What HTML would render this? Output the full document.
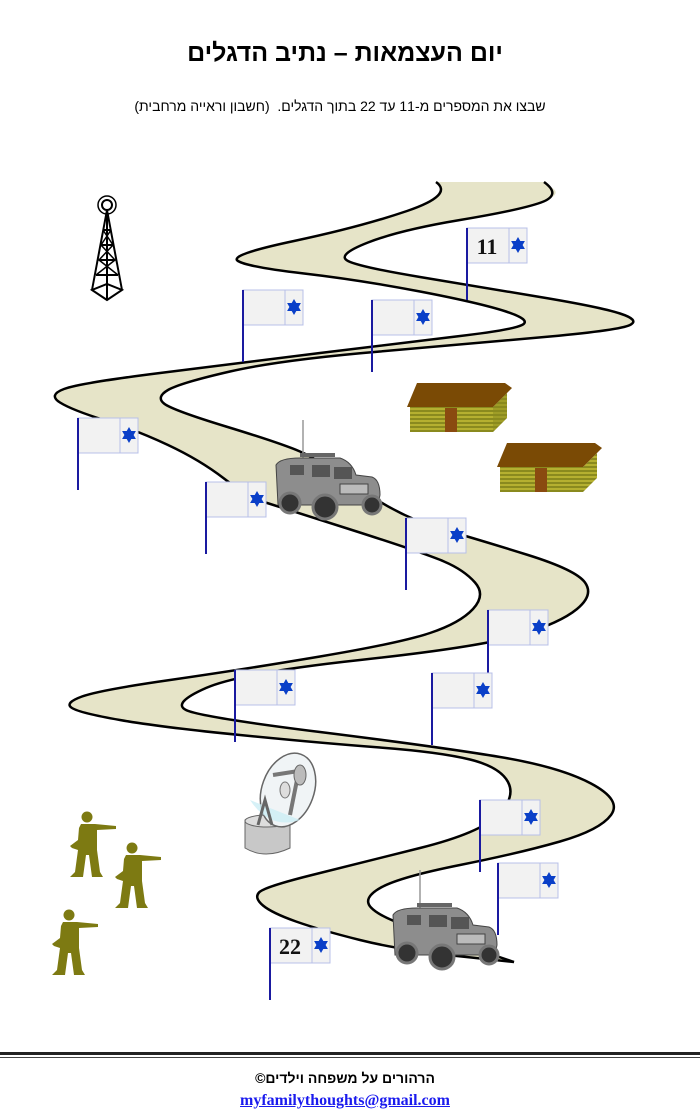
<!DOCTYPE html>
<html><head><meta charset="utf-8">
<style>
html,body{margin:0;padding:0;background:#fff;}
body{width:700px;height:1117px;position:relative;overflow:hidden;}
.t{position:absolute;left:0;width:700px;text-align:center;direction:rtl;}
</style></head>
<body>
<div class="t" style="top:39px;left:-5px;font:bold 25px 'Liberation Sans','Noto Sans CJK JP',sans-serif;">יום העצמאות – נתיב הדגלים</div>
<div class="t" style="top:98px;left:-10px;font:14px 'Liberation Sans','Noto Sans CJK JP',sans-serif;">שבצו את המספרים מ-11 עד 22 בתוך הדגלים.&nbsp; (חשבון וראייה מרחבית)</div>

<svg width="700" height="1117" style="position:absolute;left:0;top:0" xmlns="http://www.w3.org/2000/svg">
<defs>
<g id="star"><polygon points="0,-8 6.9,4 -6.9,4" fill="#0a3fc8"/><polygon points="0,8 6.9,-4 -6.9,-4" fill="#0a3fc8"/></g>
<pattern id="logs" width="4" height="4" patternUnits="userSpaceOnUse"><rect width="4" height="4" fill="#8a8a1e"/><rect width="4" height="2" fill="#b5b030"/></pattern>
</defs>
<path id="roadfill" fill="#e6e4c8" stroke="none"/>
<path id="ex" fill="none" stroke="#000" stroke-width="2.5"/>
<path id="ey" fill="none" stroke="#000" stroke-width="2.5"/>

<g stroke="#000" stroke-width="2" fill="none">
<circle cx="107" cy="205" r="5"/><circle cx="107" cy="205" r="9" stroke-width="1.5"/>
<line x1="107" y1="210" x2="92" y2="290"/><line x1="107" y1="210" x2="122" y2="290"/>
<line x1="107" y1="210" x2="107" y2="300"/>
<path d="M92 290 L107 300 L122 290 L107 284 Z"/>
<path d="M103 230 L111 230 M101 245 L113 245 M99 260 L115 260 M96 275 L118 275"/>
<path d="M103 230 L113 245 L99 260 L118 275 M111 230 L101 245 L115 260 L96 275" stroke-width="1.5"/>
</g>

<g>
<polygon points="410,407 493,407 507,393 507,418 493,432 410,432" fill="url(#logs)"/>
<polygon points="493,407 507,393 507,418 493,432" fill="#8a8a1e" opacity=".5"/>
<polygon points="417,383 505,383 512,388 493,407 407,407" fill="#7a4a05"/>
<rect x="445" y="408" width="12" height="24" fill="#8a4a10"/>
<polygon points="500,467 583,467 597,453 597,478 583,492 500,492" fill="url(#logs)"/>
<polygon points="507,443 595,443 602,448 583,467 497,467" fill="#7a4a05"/>
<rect x="535" y="468" width="12" height="24" fill="#8a4a10"/>
</g>

<g id="hum">
<line x1="303" y1="420" x2="303" y2="458" stroke="#999" stroke-width="1.5"/>
<rect x="300" y="453" width="35" height="4" fill="#666"/>
<path d="M276 465 Q280 458 300 458 L340 458 Q352 462 356 475 L372 477 Q380 480 380 495 L378 505 L278 505 Z" fill="#8d8d8d" stroke="#444"/>
<rect x="290" y="465" width="14" height="10" fill="#555"/>
<rect x="312" y="465" width="18" height="12" fill="#555"/>
<rect x="334" y="467" width="18" height="12" fill="#555"/>
<rect x="340" y="484" width="28" height="10" fill="#bbb" stroke="#444"/>
<circle cx="290" cy="503" r="10" fill="#333" stroke="#777" stroke-width="3"/>
<circle cx="325" cy="507" r="12" fill="#333" stroke="#777" stroke-width="3"/>
<circle cx="372" cy="505" r="9" fill="#333" stroke="#777" stroke-width="3"/>
</g>
<use href="#hum" transform="translate(117,450)"/>

<g>
<path d="M245 820 L245 848 Q265 860 290 848 L290 820 Q265 812 245 820 Z" fill="#c8c8c8" stroke="#666"/>
<ellipse cx="267" cy="821" rx="22" ry="6" fill="#ddd" stroke="#666"/>
<ellipse cx="288" cy="790" rx="26" ry="38" transform="rotate(20 288 790)" fill="#f0f4f6" stroke="#666" stroke-width="1.5"/>
<path d="M250 800 Q270 830 300 820" fill="#cceef5" stroke="none" opacity=".8"/>
<path d="M258 825 L265 800 L272 825" fill="none" stroke="#666" stroke-width="3"/>
<line x1="273" y1="775" x2="305" y2="770" stroke="#777" stroke-width="4"/>
<line x1="298" y1="775" x2="290" y2="815" stroke="#777" stroke-width="4"/>
<ellipse cx="300" cy="775" rx="6" ry="10" fill="#bbb" stroke="#666"/>
<ellipse cx="285" cy="790" rx="5" ry="8" fill="#ddd" stroke="#777"/>
</g>

<g id="sol" fill="#7d7a12">
<circle cx="87" cy="817" r="5.5"/>
<path d="M81 824 L95 824 L116 826 L116 829 L97 830 L97 850 L100 872 L103 877 L92 877 L89 855 L86 855 L83 877 L70 877 L75 872 L78 850 L72 848 L70 846 L78 840 L79 828 Z"/>
</g>
<use href="#sol" transform="translate(45,31)"/>
<use href="#sol" transform="translate(-18,98)"/>

<g id="flags"></g>

<rect x="0" y="1052" width="700" height="3" fill="#222"/>
<rect x="0" y="1057" width="700" height="1" fill="#444"/>
</svg>

<div class="t" style="top:1070px;left:-5px;font:bold 14px 'Liberation Sans','Noto Sans CJK JP',sans-serif;">הרהורים על משפחה וילדים©</div>
<div class="t" style="top:1092px;left:-5px;font:bold 16px 'Liberation Serif',serif;direction:ltr;"><span style="color:#1a1aee;text-decoration:underline;">myfamilythoughts@gmail.com</span></div>

<script>
var X=[[436,182],[454,195],[360,227],[228,255],[248,267],[360,280],[480,303],[532,320],[512,330],[400,343],[240,363],[80,383],[48,395],[72,410],[136,430],[200,460],[248,497],[280,507],[424,553],[464,570],[486,595],[460,623],[400,643],[240,670],[100,690],[64,703],[80,713],[160,727],[320,743],[440,752],[500,767],[516,797],[480,833],[360,863],[264,887],[254,898],[272,913],[320,930],[400,950],[514,962]];
var Y=[[544,182],[562,195],[520,210],[400,230],[336,255],[360,267],[480,287],[600,307],[640,320],[620,330],[480,343],[280,360],[180,383],[156,397],[172,410],[280,443],[320,460],[400,517],[480,540],[576,570],[594,595],[560,623],[480,647],[240,673],[172,703],[200,717],[440,747],[560,767],[622,800],[600,830],[520,853],[400,877],[362,898],[380,917],[440,937],[514,962]];
function sm(p){var d='M'+p[0][0]+' '+p[0][1];for(var i=1;i<p.length-1;i++){var mx=(p[i][0]+p[i+1][0])/2,my=(p[i][1]+p[i+1][1])/2;d+=' Q'+p[i][0]+' '+p[i][1]+' '+mx+' '+my;}var l=p[p.length-1];return d+' L'+l[0]+' '+l[1];}
var dx=sm(X),dy=sm(Y.slice().reverse());
document.getElementById('ex').setAttribute('d',dx);
document.getElementById('ey').setAttribute('d',sm(Y));
document.getElementById('roadfill').setAttribute('d',dx+' '+dy.replace('M','L')+' Z');
var F=[[467,228,'11'],[243,290],[372,300],[78,418],[206,482],[406,518],[488,610],[235,670],[432,673],[480,800],[498,863],[270,928,'22']];
var s='';
F.forEach(function(f){var x=f[0],y=f[1];
s+='<rect x="'+x+'" y="'+y+'" width="60" height="35" fill="#f2f2f2" stroke="#b8c0e8" stroke-width="1"/>';
s+='<line x1="'+(x+42)+'" y1="'+y+'" x2="'+(x+42)+'" y2="'+(y+35)+'" stroke="#b8c0e8"/>';
s+='<use href="#star" transform="translate('+(x+51)+','+(y+17)+')"/>';
s+='<line x1="'+x+'" y1="'+y+'" x2="'+x+'" y2="'+(y+72)+'" stroke="#1a1aa0" stroke-width="2"/>';
if(f[2])s+='<text x="'+(x+20)+'" y="'+(y+26)+'" text-anchor="middle" font-family="Liberation Serif,serif" font-weight="bold" font-size="22" fill="#111">'+f[2]+'</text>';
});
document.getElementById('flags').innerHTML=s;
</script>
</body></html>
